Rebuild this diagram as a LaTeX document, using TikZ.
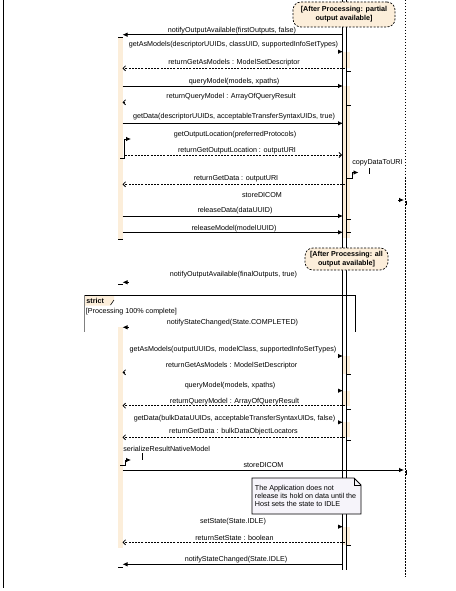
\documentclass[tikz,border=0pt]{standalone}
\usepackage{fontspec}
\setmainfont{Liberation Sans}
\usetikzlibrary{arrows.meta}
\definecolor{actfill}{RGB}{252,238,218}
\definecolor{notefill}{RGB}{246,244,250}
\begin{document}
\begin{tikzpicture}[x=1bp,y=-1bp,line width=0.8bp,
  lbl/.style={font=\fontsize{7.2}{8.6}\selectfont,inner sep=0pt},
  glbl/.style={font=\bfseries\fontsize{7.2}{9}\selectfont,inner sep=0pt,align=center},
  callmsg/.style={-{Latex[length=5bp,width=4.5bp]}},
  retmsg/.style={dash pattern=on 2bp off 1.2bp,-{Straight Barb[length=2.5bp,width=5bp]}},
  lifeln/.style={line width=0.8bp},
  dashlife/.style={line width=0.7bp,dash pattern=on 1.5bp off 1.5bp},
  tickln/.style={line width=0.8bp},
  guardbox/.style={draw,dash pattern=on 2bp off 1.5bp,fill=actfill,rounded corners=8bp,line width=0.7bp},
]
\fill[white] (0,0) rectangle (456,591);
\useasboundingbox (0,0) rectangle (456,591);

% activation bars
\fill[actfill] (118,37) rectangle (122.5,239);
\fill[actfill] (118,327) rectangle (122.5,548);
\foreach \a/\b in {52/68,86/238,356/374,391/406,422/437,527/545}
  \fill[actfill] (343,\a) rectangle (350,\b);

% lifelines
\coordinate (Ltop) at (3,0);      \coordinate (Lbot) at (3,588);
\coordinate (Atop) at (342,0);    \coordinate (Abot) at (342,570);
\coordinate (Btop) at (346.5,0);  \coordinate (Bbot) at (346.5,570);
\coordinate (Rtop) at (405.7,0);  \coordinate (Rbot) at (405.7,577);
\draw[line width=1bp] (Ltop) -- (Lbot);
\draw[lifeln] (Atop) -- (Abot);
\draw[lifeln] (Btop) -- (Bbot);
\draw[dashlife] (Rtop) -- (Rbot);

% ticks on main lifeline
\foreach \y in {71,105,219,232,374.5,409,440,545}
  \draw[tickln] (346.5,\y) -- (350.5,\y);
% ticks on left activation
\foreach \y in {37,239,284,567}
  \draw[tickln] (118,\y) -- (122.5,\y);

% guards
\node[guardbox,minimum width=102bp,minimum height=25bp,inner sep=0pt] (g1) at (344,14.5) {};
\node[glbl] (g1t) at (g1.center) {[After Processing: partial\\output available]};
\node[guardbox,minimum width=83bp,minimum height=22bp,inner sep=0pt] (g2) at (346.5,259) {};
\node[glbl] (g2t) at (g2.center) {[After Processing: all\\output available]};

% ---- messages, section 1
\coordinate (m1a) at (342,34.7); \coordinate (m1b) at (122.5,34.7);
\draw[callmsg] (m1a) -- (m1b);
\node[lbl] (t1) at (232,30.5) {notifyOutputAvailable(firstOutputs, false)};

\coordinate (m2a) at (337.5,51.7); \coordinate (m2b) at (343,51.7);
\draw[callmsg] (m2a) -- (m2b);
\node[lbl] (t2) at (233.5,44.5) {getAsModels(descriptorUUIDs, classUID, supportedInfoSetTypes)};

\coordinate (m3a) at (345,68.3); \coordinate (m3b) at (122.5,68.3);
\draw[retmsg] (m3a) -- (m3b);
\node[lbl] (t3) at (234,63) {returnGetAsModels : ModelSetDescriptor};

\coordinate (m4a) at (122.5,86); \coordinate (m4b) at (343,86);
\draw[callmsg] (m4a) -- (m4b);
\node[lbl] (t4) at (234,81.7) {queryModel(models, xpaths)};

\coordinate (m5a) at (125,102.3); \coordinate (m5b) at (122.5,102.3);
\draw[retmsg] (m5a) -- (m5b);
\node[lbl] (t5) at (231,97) {returnQueryModel : ArrayOfQueryResult};

\coordinate (m6a) at (122.5,123.3); \coordinate (m6b) at (343,123.3);
\draw[callmsg] (m6a) -- (m6b);
\node[lbl] (t6) at (234,116.7) {getData(descriptorUUIDs, acceptableTransferSyntaxUIDs, true)};

\coordinate (m7a) at (120,158); \coordinate (m7b) at (124.5,158);
\coordinate (m7c) at (124.5,139); \coordinate (m7d) at (131,139);
\draw[callmsg] (m7a) -- (m7b) -- (m7c) -- (m7d);
\node[lbl] (t7) at (235,134.5) {getOutputLocation(preferredProtocols)};

\coordinate (m8a) at (125,155); \coordinate (m8b) at (342,155);
\draw[retmsg] (m8a) -- (m8b);
\node[lbl] (t8) at (237,150.3) {returnGetOutputLocation : outputURI};

\coordinate (m9a) at (347,178); \coordinate (m9b) at (352,178);
\coordinate (m9c) at (352,172.5); \coordinate (m9d) at (358.5,172.5);
\draw[callmsg] (m9a) -- (m9b) -- (m9c) -- (m9d);
\node[lbl,anchor=west] (t9) at (352,162.5) {copyDataToURI};
\coordinate (k9a) at (369,168); \coordinate (k9b) at (369,173.5);
\draw[tickln] (k9a) -- (k9b);

\coordinate (m10a) at (345,184.3); \coordinate (m10b) at (122.5,184.3);
\draw[retmsg] (m10a) -- (m10b);
\node[lbl] (t10) at (236,179) {returnGetData : outputURI};

\coordinate (m11a) at (398,200); \coordinate (m11b) at (404,200);
\draw[callmsg] (m11a) -- (m11b);
\node[lbl] (t11) at (262,195.5) {storeDICOM};
\coordinate (k11a) at (406.7,200.7); \coordinate (k11b) at (406.7,204.5);
\draw[tickln] (k11a) -- (k11b);

\coordinate (m12a) at (122.5,216); \coordinate (m12b) at (343,216);
\draw[callmsg] (m12a) -- (m12b);
\node[lbl] (t12) at (235,211) {releaseData(dataUUID)};

\coordinate (m13a) at (122.5,232.3); \coordinate (m13b) at (343,232.3);
\draw[callmsg] (m13a) -- (m13b);
\node[lbl] (t13) at (234,228.3) {releaseModel(modelUUID)};

% ---- section 2
\coordinate (m14a) at (128.5,282.3); \coordinate (m14b) at (122.5,282.3);
\draw[callmsg] (m14a) -- (m14b);
\node[lbl] (t14) at (233.5,274.5) {notifyOutputAvailable(finalOutputs, true)};

% strict fragment
\coordinate (f1) at (84,295); \coordinate (f2) at (355,295);
\coordinate (f3) at (355,332); \coordinate (f4) at (84,332);
\fill[actfill] (84.5,295.5) -- (114,295.5) -- (114,300) -- (110,305.5) -- (84.5,305.5) -- cycle;
\draw[line width=0.6bp] (114,300) -- (110.5,305);
\draw (f1) -- (f2) -- (f3);
\draw[gray] (f1) -- (f4);
\node[lbl,font=\bfseries\fontsize{7.2}{8.6}\selectfont,anchor=west] (fs) at (86,300.5) {strict};
\node[lbl,anchor=west] (fg) at (85.5,311.5) {[Processing 100\% complete]};

\coordinate (m17a) at (128.5,327.3); \coordinate (m17b) at (122.5,327.3);
\draw[callmsg] (m17a) -- (m17b);
\node[lbl] (t17) at (232.5,323) {notifyStateChanged(State.COMPLETED)};

\coordinate (m18a) at (337.5,356); \coordinate (m18b) at (343,356);
\draw[callmsg] (m18a) -- (m18b);
\node[lbl] (t18) at (233,349.5) {getAsModels(outputUUIDs, modelClass, supportedInfoSetTypes)};

\coordinate (m19a) at (125,372.3); \coordinate (m19b) at (122.5,372.3);
\draw[retmsg] (m19a) -- (m19b);
\node[lbl] (t19) at (231.5,365.5) {returnGetAsModels : ModelSetDescriptor};

\coordinate (m20a) at (337.5,390.7); \coordinate (m20b) at (343,390.7);
\draw[callmsg] (m20a) -- (m20b);
\node[lbl] (t20) at (230,385.5) {queryModel(models, xpaths)};

\coordinate (m21a) at (345,405.7); \coordinate (m21b) at (122.5,405.7);
\draw[retmsg] (m21a) -- (m21b);
\node[lbl] (t21) at (234.5,402) {returnQueryModel : ArrayOfQueryResult};

\coordinate (m22a) at (337.5,422.3); \coordinate (m22b) at (343,422.3);
\draw[callmsg] (m22a) -- (m22b);
\node[lbl] (t22) at (234.5,418.5) {getData(bulkDataUUIDs, acceptableTransferSyntaxUIDs, false)};

\coordinate (m23a) at (345,437.3); \coordinate (m23b) at (122.5,437.3);
\draw[retmsg] (m23a) -- (m23b);
\node[lbl] (t23) at (233.5,432) {returnGetData : bulkDataObjectLocators};

\coordinate (m24a) at (120,465); \coordinate (m24b) at (125,465);
\coordinate (m24c) at (125,460); \coordinate (m24d) at (131,460);
\draw[callmsg] (m24a) -- (m24b) -- (m24c) -- (m24d);
\node[lbl,anchor=west] (t24) at (123,449) {serializeResultNativeModel};
\coordinate (k24a) at (142,453); \coordinate (k24b) at (142,460);
\draw[tickln] (k24a) -- (k24b);

\coordinate (m25a) at (122.5,470); \coordinate (m25b) at (404,470);
\draw[callmsg] (m25a) -- (m25b);
\node[lbl] (t25) at (263.5,465) {storeDICOM};
\coordinate (k25a) at (406.7,470); \coordinate (k25b) at (406.7,474.5);
\draw[tickln] (k25a) -- (k25b);

% note
\coordinate (n1) at (252,478); \coordinate (n2) at (354,478); \coordinate (n3) at (361,485);
\coordinate (n4) at (361,514); \coordinate (n5) at (252,514); \coordinate (n6) at (354,485);
\filldraw[fill=notefill,line width=0.8bp] (n1) -- (n2) -- (n3) -- (n4) -- (n5) -- cycle;
\draw[line width=0.6bp] (n2) -- (n6) -- (n3);
\node[lbl,anchor=west,align=left,font=\fontsize{7.2}{8}\selectfont] (nt) at (254.5,496)
  {The Application does not\\release its hold on data until the\\Host sets the state to IDLE};

\coordinate (m27a) at (337.5,526.7); \coordinate (m27b) at (343,526.7);
\draw[callmsg] (m27a) -- (m27b);
\node[lbl] (t27) at (233,521.7) {setState(State.IDLE)};

\coordinate (m28a) at (345,542.3); \coordinate (m28b) at (122.5,542.3);
\draw[retmsg] (m28a) -- (m28b);
\node[lbl] (t28) at (234.5,538) {returnSetState : boolean};

\coordinate (m29a) at (342,564.3); \coordinate (m29b) at (122.5,564.3);
\draw[callmsg] (m29a) -- (m29b);
\node[lbl] (t29) at (236,559.5) {notifyStateChanged(State.IDLE)};
\end{tikzpicture}
\end{document}
